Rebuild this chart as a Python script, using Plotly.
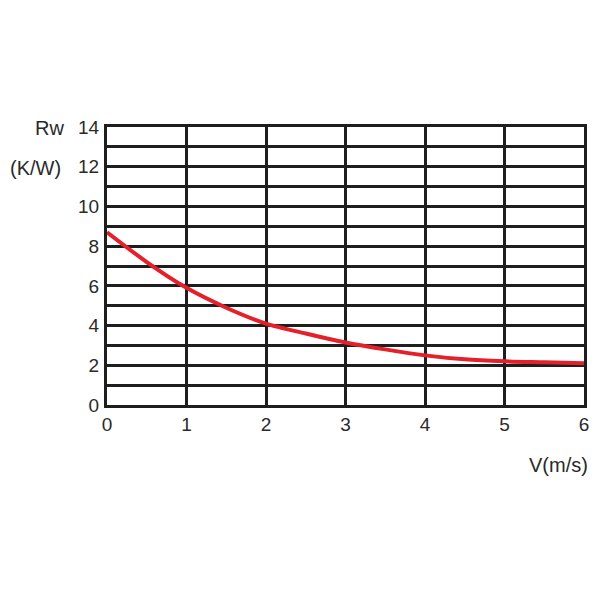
import plotly.graph_objects as go

# Data
speed = [0, 0.5, 1, 1.5, 2, 2.5, 3, 3.5, 4, 4.5, 5, 5.5, 6]
rw = [8.7, 7.2, 5.9, 4.9, 4.1, 3.6, 3.15, 2.8, 2.5, 2.3, 2.2, 2.15, 2.1]
x_ticks = [0, 1, 2, 3, 4, 5, 6]
y_ticks = [0, 2, 4, 6, 8, 10, 12, 14]

fig = go.Figure()
fig.add_trace(go.Scatter(
    x=speed, y=rw, mode="lines",
    line=dict(color="#e4202a", width=4, shape="spline", smoothing=0.8),
    showlegend=False, hoverinfo="skip"))

tick_font = dict(family="Liberation Sans, Arial, sans-serif", size=19, color="#2a2a2a")
label_font = dict(family="Liberation Sans, Arial, sans-serif", size=20, color="#2a2a2a")

fig.update_layout(
    width=592, height=592,
    paper_bgcolor="white", plot_bgcolor="white",
    margin=dict(l=99, r=16, t=119, b=195),
    font=tick_font,
    xaxis=dict(range=[0, 6], tickvals=x_ticks, ticktext=[str(v) for v in x_ticks],
               showgrid=True, gridcolor="#1e1e1e", gridwidth=3,
               showline=True, linecolor="#1e1e1e", linewidth=3, mirror=True,
               zeroline=False, ticks="", ticklabelstandoff=0, fixedrange=True),
    yaxis=dict(range=[0, 14],
               tickvals=list(range(0, 15)),
               ticktext=[str(v) if v in y_ticks else "" for v in range(0, 15)],
               showgrid=True, gridcolor="#1e1e1e", gridwidth=3,
               showline=True, linecolor="#1e1e1e", linewidth=3, mirror=True,
               zeroline=False, ticks="", ticklabelstandoff=1, fixedrange=True),
)

fig.add_annotation(text="Rw", xref="paper", yref="paper", x=-0.12, y=0.996,
                   xanchor="center", yanchor="middle", showarrow=False, font=label_font)
fig.add_annotation(text="(K/W)", xref="paper", yref="paper", x=-0.092, y=0.853,
                   xanchor="right", yanchor="middle", showarrow=False, font=label_font)
fig.add_annotation(text="V(m/s)", xref="paper", yref="paper", x=1.0126, y=-0.216,
                   xanchor="right", yanchor="middle", showarrow=False, font=label_font)

fig.write_html("out.html")
